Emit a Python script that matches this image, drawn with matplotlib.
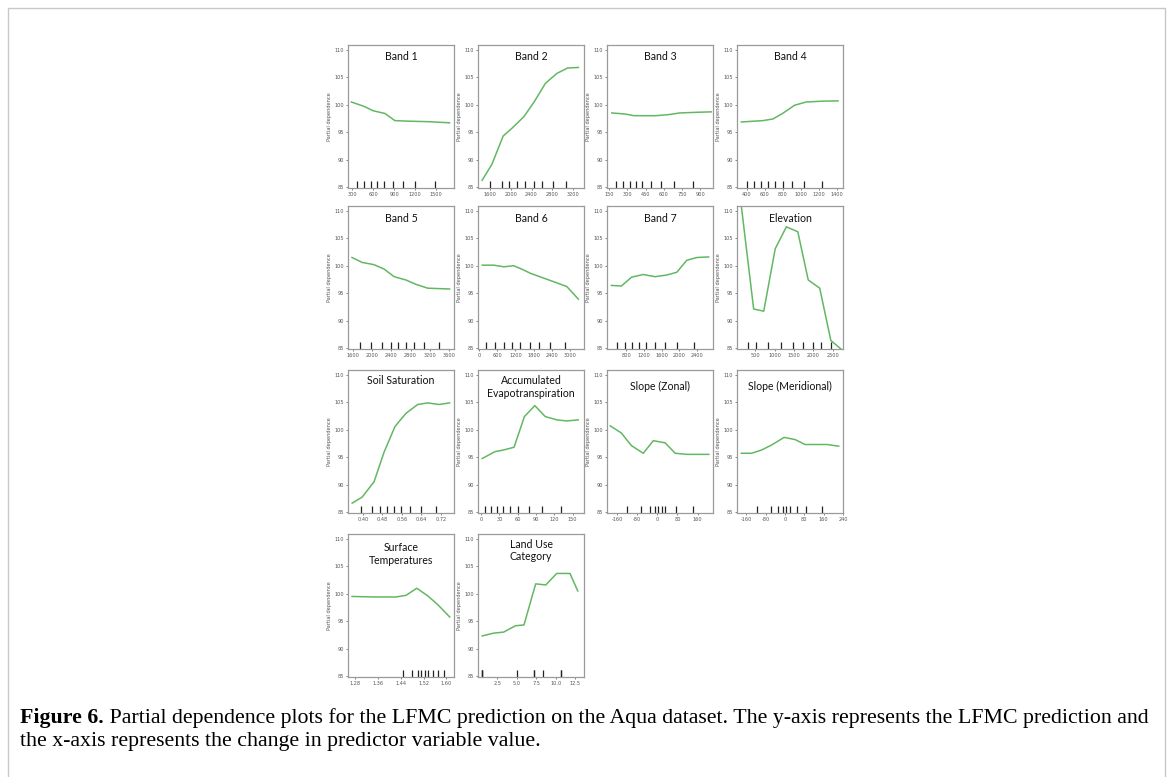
import matplotlib
matplotlib.use("Agg")
import matplotlib.pyplot as plt
from matplotlib.patches import Rectangle

W, H = 1173, 777
DPI = 100

# ---------------- data ----------------
titles = ["Band 1", "Band 2", "Band 3", "Band 4",
          "Band 5", "Band 6", "Band 7", "Elevation",
          "Soil Saturation", "Accumulated\nEvapotranspiration", "Slope (Zonal)", "Slope (Meridional)",
          "Surface\nTemperatures", "Land Use\nCategory"]

band1_x = [290, 470, 600, 770, 910, 1100, 1400, 1690]
band1_y = [100.5, 99.7, 98.9, 98.4, 97.1, 97.0, 96.9, 96.7]
band1_dec = [372, 468, 564, 660, 756, 890, 1020, 1202, 1476]

band2_x = [1440, 1630, 1850, 2020, 2250, 2450, 2670, 2890, 3100, 3310]
band2_y = [86.2, 89.1, 94.3, 95.7, 97.8, 100.5, 103.9, 105.7, 106.7, 106.8]
band2_dec = [1586, 1819, 1969, 2125, 2280, 2455, 2610, 2808, 3075]

band3_x = [172, 284, 354, 450, 536, 640, 732, 850, 990]
band3_y = [98.5, 98.3, 98.0, 98.0, 98.0, 98.2, 98.5, 98.6, 98.7]
band3_dec = [206, 262, 318, 368, 424, 491, 576, 682, 839]

band4_x = [341, 581, 692, 803, 932, 1061, 1246, 1415]
band4_y = [96.85, 97.1, 97.4, 98.45, 99.9, 100.5, 100.65, 100.7]
band4_dec = [400, 481, 563, 637, 715, 803, 903, 1033, 1236]

band5_x = [1579, 1790, 2035, 2246, 2457, 2702, 2913, 3158, 3614]
band5_y = [101.5, 100.6, 100.2, 99.4, 98.0, 97.4, 96.6, 95.9, 95.75]
band5_dec = [1747, 1979, 2197, 2386, 2548, 2709, 2878, 3088, 3390]

band6_x = [110, 490, 820, 1140, 1400, 1700, 1950, 2350, 2890, 3270]
band6_y = [100.1, 100.1, 99.8, 100.0, 99.4, 98.6, 98.1, 97.3, 96.2, 93.9]
band6_dec = [249, 534, 816, 1101, 1364, 1669, 1971, 2325, 2840]

band7_x = [463, 691, 919, 1185, 1451, 1717, 1945, 2173, 2401, 2667]
band7_y = [96.4, 96.3, 97.9, 98.4, 98.0, 98.3, 98.8, 101.0, 101.5, 101.6]
band7_dec = [592, 774, 926, 1086, 1246, 1458, 1671, 1945, 2340]

elev_x = [120, 464, 723, 1018, 1304, 1598, 1866, 2161, 2447, 2740]
elev_y = [112.5, 92.1, 91.7, 103.1, 107.1, 106.2, 97.4, 95.9, 86.35, 84.6]
elev_dec = [321, 527, 821, 1179, 1482, 1732, 1982, 2197, 2447]

soil_x = [0.356, 0.397, 0.446, 0.487, 0.532, 0.577, 0.625, 0.666, 0.712, 0.756]
soil_y = [86.6, 87.7, 90.5, 95.9, 100.6, 103.0, 104.6, 104.9, 104.6, 104.9]
soil_dec = [0.393, 0.439, 0.470, 0.501, 0.528, 0.556, 0.595, 0.639, 0.701]

aet_x = [2, 23, 37, 54, 71, 88, 105, 124, 140, 159]
aet_y = [94.75, 96.0, 96.3, 96.8, 102.4, 104.4, 102.4, 101.8, 101.6, 101.8]
aet_dec = [5.9, 16.3, 26, 35.9, 46.6, 61.3, 79.2, 99.4, 130.4]

slopez_x = [-187, -143, -103, -56, -16, 31, 71, 117, 204]
slopez_y = [100.7, 99.4, 97.1, 95.7, 98.0, 97.6, 95.7, 95.5, 95.5]
slopez_dec = [-120, -63, -29, -9, 4, 17, 31, 73, 140]

slopem_x = [-181, -139, -97, -56, -4, 42, 83, 174, 222]
slopem_y = [95.7, 95.7, 96.3, 97.2, 98.6, 98.2, 97.3, 97.3, 97.0]
slopem_dec = [-118, -60, -28, -7, 4, 21, 48, 87, 154]

surf_x = [1.268, 1.351, 1.422, 1.458, 1.496, 1.535, 1.570, 1.612]
surf_y = [99.5, 99.4, 99.4, 99.7, 101.0, 99.6, 98.0, 95.75]
surf_dec = [1.448, 1.479, 1.500, 1.512, 1.525, 1.537, 1.553, 1.569, 1.593]

land_x = [0.55, 2.0, 3.3, 4.8, 5.9, 7.4, 8.7, 10.1, 11.8, 12.8]
land_y = [92.3, 92.8, 93.0, 94.15, 94.3, 101.8, 101.6, 103.7, 103.7, 100.5]
land_dec = [0.55, 0.55, 0.55, 5.0, 7.2, 7.2, 8.3, 10.6, 10.6]

xs = [band1_x, band2_x, band3_x, band4_x, band5_x, band6_x, band7_x, elev_x,
      soil_x, aet_x, slopez_x, slopem_x, surf_x, land_x]
ys = [band1_y, band2_y, band3_y, band4_y, band5_y, band6_y, band7_y, elev_y,
      soil_y, aet_y, slopez_y, slopem_y, surf_y, land_y]
decs = [band1_dec, band2_dec, band3_dec, band4_dec, band5_dec, band6_dec, band7_dec, elev_dec,
        soil_dec, aet_dec, slopez_dec, slopem_dec, surf_dec, land_dec]

xticks = [[300, 600, 900, 1200, 1500],
          [1600, 2000, 2400, 2800, 3200],
          [150, 300, 450, 600, 750, 900],
          [400, 600, 800, 1000, 1200, 1400],
          [1600, 2000, 2400, 2800, 3200, 3600],
          [0, 600, 1200, 1800, 2400, 3000],
          [800, 1200, 1600, 2000, 2400],
          [500, 1000, 1500, 2000, 2500],
          [0.40, 0.48, 0.56, 0.64, 0.72],
          [0, 30, 60, 90, 120, 150],
          [-160, -80, 0, 80, 160],
          [-160, -80, 0, 80, 160, 240],
          [1.28, 1.36, 1.44, 1.52, 1.60],
          [2.5, 5.0, 7.5, 10.0, 12.5]]
xtick_fmt = ["{:.0f}"] * 8 + ["{:.2f}", "{:.0f}", "{:.0f}", "{:.0f}", "{:.2f}", "{:.1f}"]
yticks = [85, 90, 95, 100, 105, 110]

caption_bold = "Figure 6."
caption_rest1 = " Partial dependence plots for the LFMC prediction on the Aqua dataset. The y-axis represents the LFMC prediction and"
caption_line2 = "the x-axis represents the change in predictor variable value."

# ---------------- layout (pixels) ----------------
xlims = [(242, 1754), (1361, 3419), (133, 1004), (293, 1470),
         (1495, 3706), (-30, 3455), (364, 2766), (36, 2759),
         (0.339, 0.774), (-4.9, 168.4), (-200, 221), (-199, 240),
         (1.254, 1.627), (0.0, 13.6)]
title_off = [12, 11.7, 11.7, 11.7, 12, 12, 12, 12, 11, 17, 16.7, 16.7, 20, 16.5]
col_left = [348, 478, 607, 737]
row_top = [45, 206, 370, 534]
ax_w, ax_h = 106, 143

fig = plt.figure(figsize=(W / DPI, H / DPI), dpi=DPI)
fig.patch.set_facecolor("white")

green = "#62b862"
spine_c = "#9a9a9a"

for i in range(len(titles)):
    r, c = divmod(i, 4)
    l = col_left[c] / W
    b = 1 - (row_top[r] + ax_h) / H
    ax = fig.add_axes([l, b, ax_w / W, ax_h / H])
    ax.plot(xs[i], ys[i], color=green, lw=1.1, solid_joinstyle="round")
    ax.vlines(decs[i], 0, 0.05, transform=ax.get_xaxis_transform(), color="#222222", lw=0.9)
    ax.set_xlim(*xlims[i])
    ax.set_ylim(84.8, 110.9)
    ax.set_xticks(xticks[i])
    ax.set_xticklabels([xtick_fmt[i].format(v) for v in xticks[i]])
    ax.set_yticks(yticks)
    ax.tick_params(labelsize=3.6, length=1.5, width=0.5, colors="#555555", pad=1.2)
    for s in ax.spines.values():
        s.set_color(spine_c)
        s.set_linewidth(0.9)
    ax.set_ylabel("Partial dependence", fontsize=3.6, color="#555555", labelpad=2)
    ax.text(0.5, 1 - title_off[i] / ax_h, titles[i], transform=ax.transAxes,
            ha="center", va="center", fontsize=7.6, family="Lato", color="#111111",
            linespacing=1.15)

# border
fig.patches.append(Rectangle((8 / W, -0.01), (1165 - 8) / W, 1 - 8 / H + 0.01,
                             transform=fig.transFigure, fill=False,
                             edgecolor="#c8c8c8", lw=1.0))

cap_fs = 15.75
t1 = fig.text(20 / W, 1 - 723 / H, caption_bold, fontsize=cap_fs, family="Liberation Serif",
              weight="bold", va="baseline", ha="left")
fig.canvas.draw()
bb = t1.get_window_extent(renderer=fig.canvas.get_renderer())
fig.text(bb.x1 / W, 1 - 723 / H, caption_rest1, fontsize=cap_fs, family="Liberation Serif",
         va="baseline", ha="left")
fig.text(20 / W, 1 - 746 / H, caption_line2, fontsize=cap_fs, family="Liberation Serif",
         va="baseline", ha="left")

fig.savefig("out.png", dpi=DPI, facecolor="white")
